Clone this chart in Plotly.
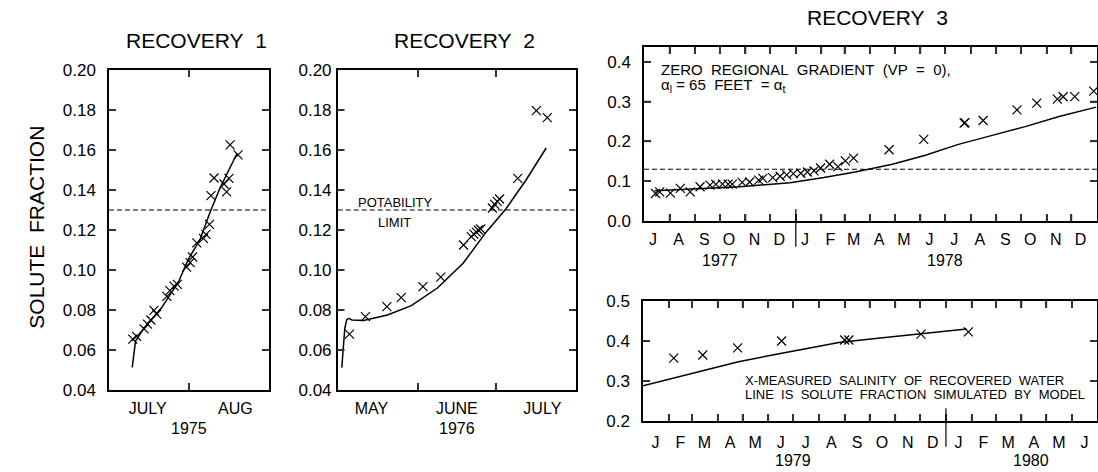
import pandas as pd
import plotly.graph_objects as go

FONT = "Liberation Sans, Arial, Helvetica, sans-serif"
W, H = 1098, 472
POTABILITY_LIMIT = 0.13
TICK_LEN = 7  # px, inward tick marks on every side of each box

# ---- Recovery 1 (summer 1975) ----
r1_meas_dates = [
    "1975-07-10 05:00", "1975-07-11 17:00", "1975-07-14 14:00", "1975-07-15 22:00",
    "1975-07-17 05:00", "1975-07-18 10:00", "1975-07-19 12:00", "1975-07-23 10:00",
    "1975-07-24 14:00", "1975-07-26 05:00", "1975-07-27 12:00", "1975-07-31 02:00",
    "1975-08-01 10:00", "1975-08-02 10:00", "1975-08-04 00:00", "1975-08-06 14:00",
    "1975-08-07 14:00", "1975-08-08 22:00", "1975-08-09 12:00", "1975-08-10 17:00",
    "1975-08-14 14:00", "1975-08-15 14:00", "1975-08-16 12:00", "1975-08-16 22:00",
    "1975-08-20 00:00",
]
r1_meas = [
    0.0654, 0.0668, 0.0706, 0.0729,
    0.0750, 0.0798, 0.0779, 0.0868,
    0.0897, 0.0919, 0.0928, 0.1014,
    0.1037, 0.1065, 0.1136, 0.1158,
    0.1178, 0.1228, 0.1372, 0.1460,
    0.1430, 0.1391, 0.1458, 0.1626,
    0.1576,
]
r1_model_dates = [
    "1975-07-10 00:00", "1975-07-10 14:00", "1975-07-11 07:00", "1975-07-14 07:00",
    "1975-07-18 19:00", "1975-07-21 10:00", "1975-07-27 22:00", "1975-07-31 17:00",
    "1975-08-05 07:00", "1975-08-09 02:00", "1975-08-13 00:00", "1975-08-19 17:00",
]
r1_model = [
    0.0513, 0.0580, 0.0645, 0.0704,
    0.0770, 0.0812, 0.0940, 0.1053,
    0.1153, 0.1286, 0.1410, 0.1585,
]

# ---- Recovery 2 (spring-summer 1976) ----
r2_meas_dates = [
    "1976-05-05 13:00", "1976-05-11 17:00", "1976-05-20 00:00", "1976-05-25 12:00",
    "1976-06-02 22:00", "1976-06-09 19:00", "1976-06-18 14:00", "1976-06-21 14:00",
    "1976-06-22 14:00", "1976-06-23 12:00", "1976-06-24 07:00", "1976-06-25 05:00",
    "1976-06-29 17:00", "1976-06-30 14:00", "1976-07-01 14:00", "1976-07-02 12:00",
    "1976-07-09 12:00", "1976-07-16 17:00", "1976-07-20 22:00",
]
r2_meas = [
    0.0679, 0.0767, 0.0817, 0.0862,
    0.0917, 0.0964, 0.1125, 0.1167,
    0.1179, 0.1189, 0.1200, 0.1205,
    0.1310, 0.1328, 0.1343, 0.1355,
    0.1458, 0.1797, 0.1762,
]
r2_model_dates = [
    "1976-05-02 14:00", "1976-05-03 05:00", "1976-05-03 18:00", "1976-05-04 12:00",
    "1976-05-05 06:00", "1976-05-06 12:00", "1976-05-11 00:00", "1976-05-20 05:00",
    "1976-05-29 10:00", "1976-06-08 12:00", "1976-06-18 12:00", "1976-06-27 05:00",
    "1976-07-04 22:00", "1976-07-12 17:00", "1976-07-20 12:00",
]
r2_model = [
    0.0512, 0.0600, 0.0710, 0.0752,
    0.0758, 0.0750, 0.0748, 0.0775,
    0.0822, 0.0910, 0.1035, 0.1188,
    0.1305, 0.1450, 0.1610,
]

# ---- Recovery 3, first part (July 1977 - December 1978) ----
r3a_meas_dates = [
    "1977-07-15", "1977-07-20", "1977-08-02", "1977-08-14", "1977-08-26",
    "1977-09-07", "1977-09-19", "1977-09-26", "1977-10-04", "1977-10-11",
    "1977-10-16", "1977-10-28", "1977-11-06", "1977-11-17", "1977-11-22",
    "1977-12-04", "1977-12-13", "1977-12-21", "1977-12-29", "1978-01-07",
    "1978-01-15", "1978-01-23", "1978-01-31", "1978-02-11", "1978-02-21",
    "1978-03-02", "1978-03-12", "1978-04-24", "1978-06-05", "1978-07-24",
    "1978-07-25", "1978-08-16", "1978-09-26", "1978-10-20", "1978-11-14",
    "1978-11-21", "1978-12-05", "1978-12-28",
]
r3a_meas = [
    0.069, 0.073, 0.070, 0.082, 0.073,
    0.086, 0.090, 0.092, 0.0925, 0.0925,
    0.0925, 0.097, 0.098, 0.1025, 0.107,
    0.109, 0.1125, 0.116, 0.119, 0.120,
    0.123, 0.126, 0.133, 0.1425, 0.1365,
    0.151, 0.158, 0.179, 0.205, 0.246,
    0.247, 0.2525, 0.279, 0.296, 0.306,
    0.312, 0.3125, 0.326,
]
r3a_model_dates = [
    "1977-07-14", "1977-08-26", "1977-10-25", "1977-12-25", "1978-02-04",
    "1978-03-14", "1978-04-11", "1978-04-28", "1978-06-07", "1978-07-17",
    "1978-08-27", "1978-10-06", "1978-11-16", "1978-12-31",
]
r3a_model = [
    0.076, 0.080, 0.086, 0.096, 0.109,
    0.123, 0.134, 0.1425, 0.165, 0.1925,
    0.215, 0.237, 0.2625, 0.286,
]

# ---- Recovery 3, second part (January 1979 - June 1980) ----
r3b_meas_dates = [
    "1979-02-07", "1979-03-14", "1979-04-25", "1979-06-17",
    "1979-09-01", "1979-09-06", "1979-12-02", "1980-01-28",
]
r3b_meas = [0.357, 0.365, 0.383, 0.400, 0.4025, 0.4025, 0.417, 0.423]
r3b_model_dates = [
    "1979-01-01", "1979-02-07", "1979-03-17", "1979-04-26", "1979-06-06",
    "1979-07-16", "1979-08-25", "1979-10-11", "1979-12-02", "1980-01-26",
]
r3b_model = [0.288, 0.307, 0.3275, 0.348, 0.365, 0.380, 0.396, 0.407, 0.4175, 0.430]

# ---- axis labels ----
r1_month_dates = ["1975-07-16", "1975-08-19"]
r1_month_text = ["JULY", "AUG"]
r2_month_dates = ["1976-05-14", "1976-06-16", "1976-07-19"]
r2_month_text = ["MAY", "JUNE", "JULY"]
r3a_month_dates = ["1977-07-12", "1977-08-12", "1977-09-12", "1977-10-12", "1977-11-12",
                   "1977-12-12", "1978-01-12", "1978-02-12", "1978-03-12", "1978-04-12",
                   "1978-05-12", "1978-06-12", "1978-07-12", "1978-08-12", "1978-09-12",
                   "1978-10-12", "1978-11-12", "1978-12-12"]
r3a_month_text = ["J", "A", "S", "O", "N", "D", "J", "F", "M", "A", "M", "J",
                  "J", "A", "S", "O", "N", "D"]
r3b_month_dates = ["1979-01-16", "1979-02-15", "1979-03-16", "1979-04-16", "1979-05-16",
                   "1979-06-16", "1979-07-16", "1979-08-16", "1979-09-16", "1979-10-16",
                   "1979-11-16", "1979-12-16", "1980-01-16", "1980-02-15", "1980-03-16",
                   "1980-04-16", "1980-05-16", "1980-06-16"]
r3b_month_text = ["J", "F", "M", "A", "M", "J", "J", "A", "S", "O", "N", "D",
                  "J", "F", "M", "A", "M", "J"]
year_labels = [("x", "1975-08-01", 428, "1975"), ("x2", "1976-06-16", 428, "1976"),
               ("x3", "1977-10-01", 260, "1977"), ("x3", "1978-07-01", 260, "1978"),
               ("x4", "1979-07-01", 460, "1979"), ("x4", "1980-04-12", 460, "1980")]

# month boundaries (tick marks) inside each panel's date range
r1_boundaries = ["1975-08-01"]
r2_boundaries = ["1976-06-01", "1976-07-01"]
r3a_boundaries = ["1977-08-01", "1977-09-01", "1977-10-01", "1977-11-01", "1977-12-01",
                  "1978-01-01", "1978-02-01", "1978-03-01", "1978-04-01", "1978-05-01",
                  "1978-06-01", "1978-07-01", "1978-08-01", "1978-09-01", "1978-10-01",
                  "1978-11-01", "1978-12-01"]
r3b_boundaries = ["1979-02-01", "1979-03-01", "1979-04-01", "1979-05-01", "1979-06-01",
                  "1979-07-01", "1979-08-01", "1979-09-01", "1979-10-01", "1979-11-01",
                  "1979-12-01", "1980-01-01", "1980-02-01", "1980-03-01", "1980-04-01",
                  "1980-05-01", "1980-06-01"]

r1_range = ["1975-07-01", "1975-09-01"]
r2_range = ["1976-05-01", "1976-08-01"]
r3a_range = ["1977-07-01", "1979-01-01"]
r3b_range = ["1979-01-01", "1980-07-01"]
r12_yrange = [0.04, 0.20]
r3a_yrange = [0.0, 0.437]
r3b_yrange = [0.2, 0.5]
r12_yticks = [0.06, 0.08, 0.10, 0.12, 0.14, 0.16, 0.18]
r3a_yticks = [0.1, 0.2, 0.3, 0.4]
r3b_yticks = [0.3, 0.4]

# panel boxes in pixels: left, right, top, bottom
boxes = {
    "1": (109, 269, 70, 390),
    "2": (337.7, 576, 70, 390),
    "3": (644, 1097, 47, 221),
    "4": (643, 1097, 301, 421),
}


def x_dom(k):
    l, r, _, _ = boxes[k]
    return [l / W, r / W]


def y_dom(k):
    _, _, t, b = boxes[k]
    return [1 - b / H, 1 - t / H]


def stamp(ts):
    return ts.strftime("%Y-%m-%d %H:%M:%S")


fig = go.Figure()

marker = dict(symbol="x-thin", size=9, color="black", line=dict(width=1.2, color="black"))
line = dict(color="black", width=1.5)

panels = [
    ("1", "x", "y", r1_range, r12_yrange, r1_boundaries, r12_yticks,
     r1_meas_dates, r1_meas, r1_model_dates, r1_model),
    ("2", "x2", "y2", r2_range, r12_yrange, r2_boundaries, r12_yticks,
     r2_meas_dates, r2_meas, r2_model_dates, r2_model),
    ("3", "x3", "y3", r3a_range, r3a_yrange, r3a_boundaries, r3a_yticks,
     r3a_meas_dates, r3a_meas, r3a_model_dates, r3a_model),
    ("4", "x4", "y4", r3b_range, r3b_yrange, r3b_boundaries, r3b_yticks,
     r3b_meas_dates, r3b_meas, r3b_model_dates, r3b_model),
]

for k, xa, ya, xr, yr, bounds, yvals, md, mv, ld, lv in panels:
    l, r, t, b = boxes[k]
    # inward tick marks as short segments in data units
    dy = (yr[1] - yr[0]) * TICK_LEN / (b - t)
    x_lo, x_hi = pd.Timestamp(xr[0]), pd.Timestamp(xr[1])
    dx = (x_hi - x_lo) * (TICK_LEN / (r - l))
    tx, ty = [], []
    for v in bounds:
        tx += [v, v, None, v, v, None]
        ty += [yr[0], yr[0] + dy, None, yr[1] - dy, yr[1], None]
    for v in yvals:
        tx += [stamp(x_lo), stamp(x_lo + dx), None, stamp(x_hi - dx), stamp(x_hi), None]
        ty += [v, v, None, v, v, None]
    fig.add_trace(go.Scatter(x=tx, y=ty, mode="lines", line=dict(color="#333333", width=1.6),
                             xaxis=xa, yaxis=ya, showlegend=False, hoverinfo="skip",
                             connectgaps=False))

    fig.add_trace(go.Scatter(x=ld, y=lv, mode="lines", line=line, xaxis=xa, yaxis=ya,
                             showlegend=False, hoverinfo="skip"))
    fig.add_trace(go.Scatter(x=md, y=mv, mode="markers", marker=marker, xaxis=xa, yaxis=ya,
                             showlegend=False))

# empty traces so the month-name axes are laid out
for xa, ya, rng in (("x5", "y", r1_range), ("x6", "y2", r2_range),
                    ("x7", "y3", r3a_range), ("x8", "y4", r3b_range)):
    fig.add_trace(go.Scatter(x=[rng[0]], y=[None], mode="markers", xaxis=xa, yaxis=ya,
                             showlegend=False, hoverinfo="skip"))

TICKFONT = dict(size=17, color="black", family=FONT)


def frame_x(k, rng, bounds, anchor):
    return dict(
        domain=x_dom(k), range=rng, type="date", anchor=anchor, automargin=False,
        tickmode="array", tickvals=bounds, showticklabels=False,
        ticks="inside", ticklen=TICK_LEN, tickwidth=1.5, tickcolor="#333333",
        showline=True, linecolor="black", linewidth=1.5, mirror="ticks",
        showgrid=False, zeroline=False,
    )


def label_x(rng, tickvals, ticktext, overlay, anchor, standoff):
    # month names centred inside each month
    return dict(
        overlaying=overlay, anchor=anchor, side="bottom", range=rng, type="date",
        automargin=False, tickmode="array", tickvals=tickvals, ticktext=ticktext, ticks="",
        showline=False, showgrid=False, zeroline=False, ticklabelstandoff=standoff,
        tickfont=dict(size=16, color="black", family=FONT),
    )


def y_axis(k, rng, dtick, fmt, anchor, standoff):
    return dict(
        domain=y_dom(k), range=rng, anchor=anchor, dtick=dtick, tick0=0, tickformat=fmt,
        automargin=False, ticks="inside", ticklen=TICK_LEN, tickwidth=1.5,
        tickcolor="#333333",
        showline=True, linecolor="black", linewidth=1.5, mirror="ticks",
        showgrid=False, zeroline=False, ticklabelstandoff=standoff, tickfont=TICKFONT,
    )


fig.update_layout(
    width=W, height=H, autosize=False,
    margin=dict(l=0, r=0, t=0, b=0, pad=0, autoexpand=False),
    paper_bgcolor="white", plot_bgcolor="white",
    font=dict(family=FONT, color="black"),
    xaxis=frame_x("1", r1_range, r1_boundaries, "y"),
    yaxis=y_axis("1", r12_yrange, 0.02, ".2f", "x", 8),
    xaxis2=frame_x("2", r2_range, r2_boundaries, "y2"),
    yaxis2=y_axis("2", r12_yrange, 0.02, ".2f", "x2", 1),
    xaxis3=frame_x("3", r3a_range, r3a_boundaries, "y3"),
    yaxis3=y_axis("3", r3a_yrange, 0.1, ".1f", "x3", 8),
    xaxis4=frame_x("4", r3b_range, r3b_boundaries, "y4"),
    yaxis4=y_axis("4", r3b_yrange, 0.1, ".1f", "x4", 8),
    xaxis5=label_x(r1_range, r1_month_dates, r1_month_text, "x", "y", 7),
    xaxis6=label_x(r2_range, r2_month_dates, r2_month_text, "x2", "y2", 7),
    xaxis7=label_x(r3a_range, r3a_month_dates, r3a_month_text, "x3", "y3", 7),
    xaxis8=label_x(r3b_range, r3b_month_dates, r3b_month_text, "x4", "y4", 10),
)

shapes = []
# potability limit
for xa, ya in (("x", "y"), ("x2", "y2"), ("x3", "y3")):
    shapes.append(dict(type="line", xref=f"{xa} domain", yref=ya, x0=0, x1=1,
                       y0=POTABILITY_LIMIT, y1=POTABILITY_LIMIT,
                       line=dict(color="black", width=1.2, dash="5px,3px")))

# year dividers
shapes.append(dict(type="line", xref="x3", yref="y3 domain", x0="1978-01-01", x1="1978-01-01",
                   y0=-0.148, y1=0.069, line=dict(color="black", width=1.2)))
shapes.append(dict(type="line", xref="x4", yref="y4 domain", x0="1980-01-01", x1="1980-01-01",
                   y0=-0.214, y1=0.106, line=dict(color="black", width=1.2)))

ann = []
for xa, xv, ypix, txt in year_labels:
    ann.append(dict(xref=xa, yref="paper", x=xv, y=1 - ypix / H, text=txt, showarrow=False,
                    font=dict(size=16), xanchor="center", yanchor="middle"))

titles = [(197, 40, "RECOVERY\u00a0\u00a01"), (464, 40, "RECOVERY\u00a0\u00a02"),
          (877, 17, "RECOVERY\u00a0\u00a03")]
for xp, yp, txt in titles:
    ann.append(dict(xref="paper", yref="paper", x=xp / W, y=1 - yp / H, text=txt,
                    showarrow=False, font=dict(size=21), xanchor="center", yanchor="middle"))

ann.append(dict(xref="paper", yref="paper", x=36.7 / W, y=1 - 227 / H,
                text="SOLUTE\u00a0\u00a0FRACTION", textangle=-90, showarrow=False,
                font=dict(size=21), xanchor="center", yanchor="middle"))

ann.append(dict(xref="x2", yref="y2", x="1976-05-23", y=0.134, text="POTABILITY",
                showarrow=False, font=dict(size=13), xanchor="center", yanchor="middle"))
ann.append(dict(xref="x2", yref="y2", x="1976-05-23", y=0.124, text="LIMIT",
                showarrow=False, font=dict(size=13), xanchor="center", yanchor="middle"))

ann.append(dict(xref="x3 domain", yref="y3 domain", x=0.033, y=0.87,
                text="ZERO\u00a0\u00a0REGIONAL\u00a0\u00a0GRADIENT\u00a0\u00a0(VP\u00a0\u00a0=\u00a0\u00a00),",
                showarrow=False, font=dict(size=15), xanchor="left", yanchor="middle"))
ann.append(dict(xref="x3 domain", yref="y3 domain", x=0.033, y=0.78,
                text="α<sub>l</sub>\u00a0=\u00a065\u00a0\u00a0FEET\u00a0\u00a0=\u00a0α<sub>t</sub>",
                showarrow=False, font=dict(size=15), xanchor="left", yanchor="middle"))

ann.append(dict(xref="x4 domain", yref="y4 domain", x=0.22, y=0.336,
                text="X-MEASURED\u00a0\u00a0SALINITY\u00a0\u00a0OF\u00a0\u00a0RECOVERED\u00a0\u00a0WATER",
                showarrow=False, font=dict(size=13), xanchor="left", yanchor="middle"))
ann.append(dict(xref="x4 domain", yref="y4 domain", x=0.22, y=0.2225,
                text="LINE\u00a0\u00a0IS\u00a0\u00a0SOLUTE\u00a0\u00a0FRACTION\u00a0\u00a0SIMULATED\u00a0\u00a0BY\u00a0\u00a0MODEL",
                showarrow=False, font=dict(size=13), xanchor="left", yanchor="middle"))

fig.update_layout(shapes=shapes, annotations=ann)

fig.write_html("out.html")
